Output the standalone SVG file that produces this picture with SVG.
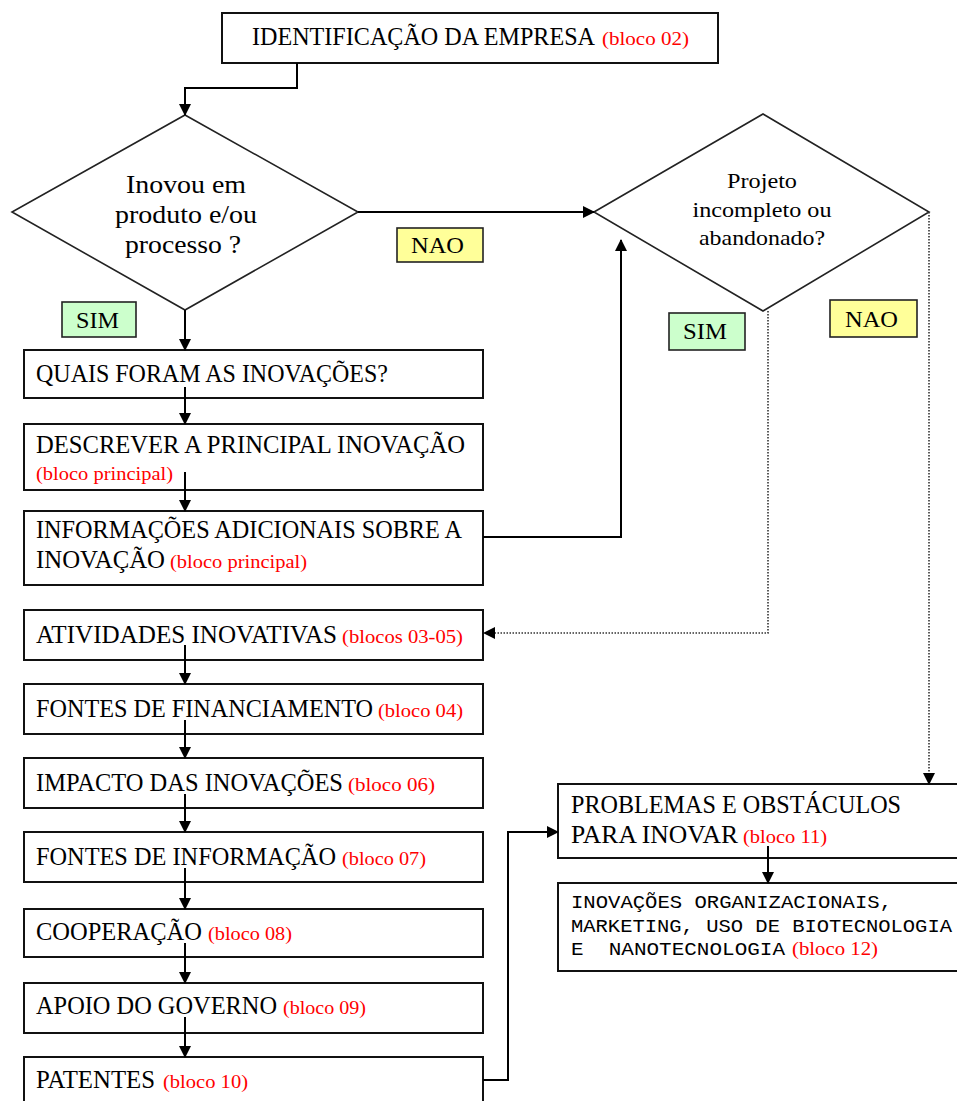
<svg xmlns="http://www.w3.org/2000/svg" width="957" height="1101" viewBox="0 0 957 1101">
<defs>
<style>
.box{fill:#fff;stroke:#111;stroke-width:2}
.dia{fill:#fff;stroke:#222;stroke-width:1.6}
.t{font-family:"Liberation Serif",serif;font-size:25px;fill:#000}
.d{font-family:"Liberation Serif",serif;font-size:26px;fill:#000;text-anchor:middle}
.d2{font-family:"Liberation Serif",serif;font-size:22px;fill:#000;text-anchor:middle}
.r{font-family:"Liberation Serif",serif;font-size:19px;fill:#ff0000}
.m{font-family:"Liberation Mono",monospace;font-size:19px;fill:#000;white-space:pre}
.lab{font-family:"Liberation Serif",serif;font-size:24px;fill:#000}
.yes{fill:#ccffcc;stroke:#222;stroke-width:1.6}
.no{fill:#ffff99;stroke:#222;stroke-width:1.6}
.c{fill:none;stroke:#000;stroke-width:2}
.dot{fill:none;stroke:#333;stroke-width:1.6;stroke-dasharray:1.5 1.5}
</style>
<marker id="ah" markerUnits="userSpaceOnUse" markerWidth="12" markerHeight="12" refX="11" refY="6" orient="auto">
<path d="M0,0 L12,6 L0,12 z" fill="#000"/>
</marker>
</defs>

<g id="identificacao">
<rect class="box" x="222" y="13" width="496" height="50"/>
<text class="t" x="252" y="45" textLength="343" lengthAdjust="spacingAndGlyphs">IDENTIFICAÇÃO DA EMPRESA</text>
<text class="r" x="602" y="45" textLength="87" lengthAdjust="spacingAndGlyphs">(bloco 02)</text>
</g>

<g id="inovou">
<polygon class="dia" points="185,115 358,212 185,310 12,212"/>
<text class="d" x="186" y="193" textLength="120" lengthAdjust="spacingAndGlyphs">Inovou em</text>
<text class="d" x="186" y="223" textLength="142" lengthAdjust="spacingAndGlyphs">produto e/ou</text>
<text class="d" x="183" y="253" textLength="116" lengthAdjust="spacingAndGlyphs">processo ?</text>
</g>

<g id="nao1">
<rect class="no" x="397" y="228" width="86" height="34"/>
<text class="lab" x="411" y="253" textLength="53" lengthAdjust="spacingAndGlyphs">NAO</text>
</g>

<g id="sim1">
<rect class="yes" x="62" y="302" width="74" height="35"/>
<text class="lab" x="76" y="328" textLength="43" lengthAdjust="spacingAndGlyphs">SIM</text>
</g>

<g id="projeto">
<polygon class="dia" points="594,212 763,114 929,212 763,311"/>
<text class="d2" x="762" y="188" textLength="70" lengthAdjust="spacingAndGlyphs">Projeto</text>
<text class="d2" x="762" y="217" textLength="139" lengthAdjust="spacingAndGlyphs">incompleto ou</text>
<text class="d2" x="762" y="245" textLength="126" lengthAdjust="spacingAndGlyphs">abandonado?</text>
</g>

<g id="sim2">
<rect class="yes" x="669" y="313" width="76" height="37"/>
<text class="lab" x="683" y="339" textLength="44" lengthAdjust="spacingAndGlyphs">SIM</text>
</g>

<g id="nao2">
<rect class="no" x="830" y="300" width="87" height="37"/>
<text class="lab" x="845" y="327" textLength="53" lengthAdjust="spacingAndGlyphs">NAO</text>
</g>

<g id="quais">
<rect class="box" x="24" y="350" width="459" height="48"/>
<text class="t" x="36" y="382" textLength="352" lengthAdjust="spacingAndGlyphs">QUAIS FORAM AS INOVAÇÕES?</text>
</g>

<g id="descrever">
<rect class="box" x="24" y="424" width="459" height="66"/>
<text class="t" x="36" y="453" textLength="429" lengthAdjust="spacingAndGlyphs">DESCREVER A PRINCIPAL INOVAÇÃO</text>
<text class="r" x="36" y="480" textLength="137" lengthAdjust="spacingAndGlyphs">(bloco principal)</text>
</g>

<g id="informacoes">
<rect class="box" x="24" y="511" width="459" height="74"/>
<text class="t" x="36" y="538" textLength="426" lengthAdjust="spacingAndGlyphs">INFORMAÇÕES ADICIONAIS SOBRE A</text>
<text class="t" x="36" y="568" textLength="129" lengthAdjust="spacingAndGlyphs">INOVAÇÃO</text>
<text class="r" x="170" y="568" textLength="137" lengthAdjust="spacingAndGlyphs">(bloco principal)</text>
</g>

<g id="atividades">
<rect class="box" x="24" y="610" width="459" height="50"/>
<text class="t" x="36" y="643" textLength="301" lengthAdjust="spacingAndGlyphs">ATIVIDADES INOVATIVAS</text>
<text class="r" x="342" y="643" textLength="121" lengthAdjust="spacingAndGlyphs">(blocos 03-05)</text>
</g>

<g id="financiamento">
<rect class="box" x="24" y="684" width="459" height="50"/>
<text class="t" x="36" y="717" textLength="337" lengthAdjust="spacingAndGlyphs">FONTES DE FINANCIAMENTO</text>
<text class="r" x="378" y="717" textLength="85" lengthAdjust="spacingAndGlyphs">(bloco 04)</text>
</g>

<g id="impacto">
<rect class="box" x="24" y="758" width="459" height="50"/>
<text class="t" x="36" y="791" textLength="307" lengthAdjust="spacingAndGlyphs">IMPACTO DAS INOVAÇÕES</text>
<text class="r" x="348" y="791" textLength="87" lengthAdjust="spacingAndGlyphs">(bloco 06)</text>
</g>

<g id="informacao">
<rect class="box" x="24" y="832" width="459" height="50"/>
<text class="t" x="36" y="865" textLength="300" lengthAdjust="spacingAndGlyphs">FONTES DE INFORMAÇÃO</text>
<text class="r" x="342" y="865" textLength="84" lengthAdjust="spacingAndGlyphs">(bloco 07)</text>
</g>

<g id="cooperacao">
<rect class="box" x="24" y="909" width="459" height="48"/>
<text class="t" x="36" y="940" textLength="166" lengthAdjust="spacingAndGlyphs">COOPERAÇÃO</text>
<text class="r" x="208" y="940" textLength="84" lengthAdjust="spacingAndGlyphs">(bloco 08)</text>
</g>

<g id="apoio">
<rect class="box" x="24" y="983" width="459" height="50"/>
<text class="t" x="36" y="1014" textLength="241" lengthAdjust="spacingAndGlyphs">APOIO DO GOVERNO</text>
<text class="r" x="283" y="1014" textLength="83" lengthAdjust="spacingAndGlyphs">(bloco 09)</text>
</g>

<g id="patentes">
<rect class="box" x="24" y="1057" width="459" height="60"/>
<text class="t" x="36" y="1088" textLength="119" lengthAdjust="spacingAndGlyphs">PATENTES</text>
<text class="r" x="163" y="1088" textLength="85" lengthAdjust="spacingAndGlyphs">(bloco 10)</text>
</g>

<g id="problemas">
<rect class="box" x="558" y="784" width="410" height="74"/>
<text class="t" x="571" y="813" textLength="330" lengthAdjust="spacingAndGlyphs">PROBLEMAS E OBSTÁCULOS</text>
<text class="t" x="571" y="843" textLength="167" lengthAdjust="spacingAndGlyphs">PARA INOVAR</text>
<text class="r" x="743" y="843" textLength="84" lengthAdjust="spacingAndGlyphs">(bloco 11)</text>
</g>

<g id="organizacionais">
<rect class="box" x="558" y="883" width="410" height="88"/>
<text class="m" x="571" y="908" textLength="321" lengthAdjust="spacingAndGlyphs">INOVAÇÕES ORGANIZACIONAIS,</text>
<text class="m" x="571" y="932" textLength="381" lengthAdjust="spacingAndGlyphs">MARKETING, USO DE BIOTECNOLOGIA</text>
<text class="m" x="571" y="955" textLength="214" lengthAdjust="spacingAndGlyphs" xml:space="preserve">E  NANOTECNOLOGIA</text>
<text class="r" x="792" y="955" textLength="86" lengthAdjust="spacingAndGlyphs">(bloco 12)</text>
</g>

<g id="connectors">
<path class="c" d="M297,63 V88 H185 V115" marker-end="url(#ah)"/>
<path class="c" d="M358,212 H594" marker-end="url(#ah)"/>
<path class="c" d="M185,310 V350" marker-end="url(#ah)"/>
<path class="c" d="M185,387 V424" marker-end="url(#ah)"/>
<path class="c" d="M185,472 V511" marker-end="url(#ah)"/>
<path class="c" d="M483,537 H621 V240" marker-end="url(#ah)"/>
<path class="dot" d="M768,311 V633 H484" marker-end="url(#ah)"/>
<path class="dot" d="M929,212 V784" marker-end="url(#ah)"/>
<path class="c" d="M185,645 V684" marker-end="url(#ah)"/>
<path class="c" d="M185,720 V758" marker-end="url(#ah)"/>
<path class="c" d="M185,794 V832" marker-end="url(#ah)"/>
<path class="c" d="M185,868 V909" marker-end="url(#ah)"/>
<path class="c" d="M185,943 V983" marker-end="url(#ah)"/>
<path class="c" d="M185,1017 V1057" marker-end="url(#ah)"/>
<path class="c" d="M483,1080 H508 V832 H558" marker-end="url(#ah)"/>
<path class="c" d="M768,846 V883" marker-end="url(#ah)"/>
</g>
</svg>
